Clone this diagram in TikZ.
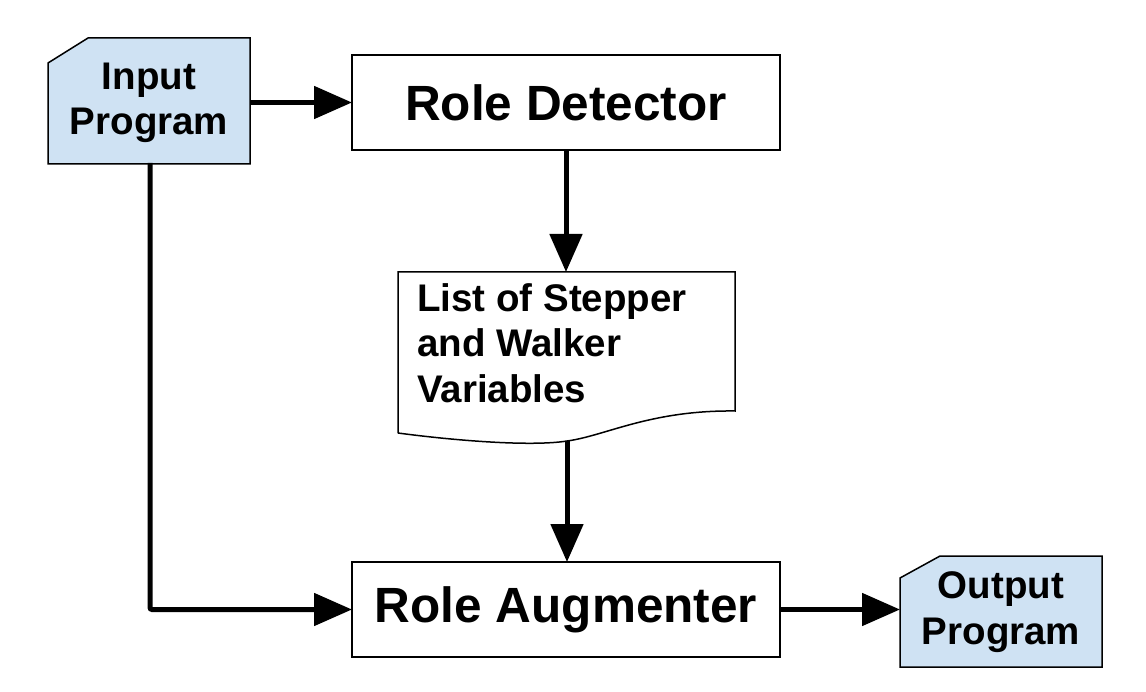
\documentclass[tikz,border=0pt]{standalone}
\usepackage{fontspec}
\setmainfont{Liberation Sans}
\usetikzlibrary{arrows.meta,calc}
\definecolor{cardblue}{HTML}{CFE2F3}
\tikzset{
  conn/.style={line width=5pt,-{Triangle[length=38pt,width=32pt]}},
  boxline/.style={line width=1.5pt},
  bigtext/.style={font=\bfseries\fontsize{49.5}{56}\selectfont},
  midtext/.style={font=\bfseries\fontsize{38.5}{45.5}\selectfont},
  procbox/.style={draw,boxline,fill=white,minimum width=428pt,minimum height=95pt,outer sep=0pt,inner sep=0pt,bigtext},
  cardarea/.style={minimum width=202pt,outer sep=0pt,inner sep=0pt,align=center,midtext},
}
\begin{document}
\begin{tikzpicture}[x=1pt,y=-1pt]
\useasboundingbox (0,0) rectangle (1146,692);
% input card
\node[cardarea,minimum height=126pt] (in) at (149,101) {};
\draw[boxline,fill=cardblue] (in.south west) -- ($(in.north west)+(0,25)$) -- ($(in.north west)+(40,0)$) -- (in.north east) -- (in.south east) -- cycle;
\node[midtext,align=center] (intext) at (149,103) {Input\\Program};
% role detector
\node[procbox] (det) at (566,102.5) {Role Detector};
% list document
\coordinate (lnw) at (398,272);
\coordinate (lne) at (735,272);
\coordinate (lse) at (735,411);
\coordinate (lsw) at (398,433);
\coordinate (lbot) at (567,441);
\draw[boxline,fill=white] (lsw) -- (lnw) -- (lne) -- (lse)
  .. controls (650,410) and (605,436) .. (lbot)
  .. controls (530,447) and (450,440) .. (lsw);
\node[midtext,align=left,anchor=north west,inner sep=0pt] (list) at (417,283) {List of Stepper\\and Walker\\Variables};
% role augmenter
\node[procbox] (aug) at (566,609.5) {Role Augmenter};
% output card
\node[cardarea,minimum height=111pt] (out) at (1001,611.5) {};
\draw[boxline,fill=cardblue] (out.south west) -- ($(out.north west)+(0,22)$) -- ($(out.north west)+(40,0)$) -- (out.north east) -- (out.south east) -- cycle;
\node[midtext,align=center] (outtext) at (1001,612) {Output\\Program};
% connectors
\draw[conn] (in.east |- det.west) -- (det.west);
\draw[conn] (det.south) -- (lnw -| det.south);
\draw[conn] (lbot) -- (lbot |- aug.north);
\draw[conn,rounded corners=2pt] (150,163) |- (aug.west);
\draw[conn] (aug.east) -- (out.west |- aug.east);
\end{tikzpicture}
\end{document}
